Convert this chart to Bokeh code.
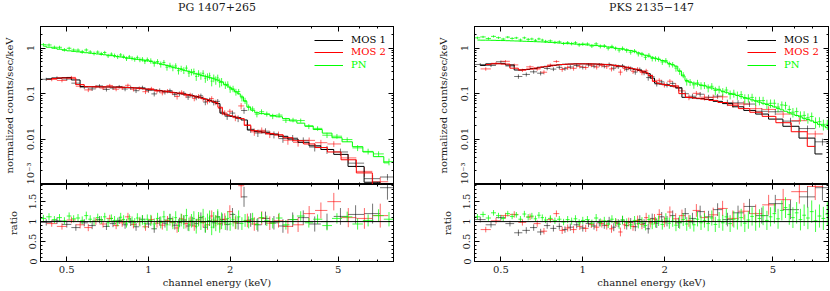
import numpy as np
from bokeh.plotting import figure
from bokeh.layouts import row, column
from bokeh.models import LogAxis, LinearAxis, FixedTicker, Range1d, Span, Legend, LegendItem
from bokeh.core.properties import value
from bokeh.embed import file_html
from bokeh.resources import INLINE

X_LO, X_HI = 0.4, 8.0
Y_LO, Y_HI = 0.001, 3.0
R_LO, R_HI = 0.0, 1.93
X_MAJOR = [0.5, 1, 2, 5]
X_LABELS = ["0.5", "1", "2", "5"]
X_MINOR = [0.4, 0.6, 0.7, 0.8, 0.9, 3, 4, 6, 7, 8]
Y_MAJOR = [0.001, 0.01, 0.1, 1]
Y_LABELS = ["10\u207b\u00b3", "0.01", "0.1", "1"]
Y_MINOR = [0.002, 0.003, 0.004, 0.005, 0.006, 0.007, 0.008, 0.009,
           0.02, 0.03, 0.04, 0.05, 0.06, 0.07, 0.08, 0.09,
           0.2, 0.3, 0.4, 0.5, 0.6, 0.7, 0.8, 0.9, 2, 3]
R_MAJOR = [0, 0.5, 1, 1.5]
R_LABELS = ["0", "0.5", "1", "1.5"]
R_MINOR = [0.1, 0.2, 0.3, 0.4, 0.6, 0.7, 0.8, 0.9, 1.1, 1.2, 1.3, 1.4, 1.6, 1.7, 1.8, 1.9]
RATIO_REF = 1.0

TITLES = ["PG 1407+265", "PKS 2135\u2212147"]
NAMES = ["MOS 1", "MOS 2", "PN"]
Y_TITLE = "normalized counts/sec/keV"
R_TITLE = "ratio"
X_TITLE = "channel energy (keV)"

MOS1_E = [0.42, 0.46, 0.50, 0.54, 0.58, 0.62, 0.66, 0.70, 0.74, 0.78,
          0.82, 0.86, 0.90, 0.95, 1.00, 1.05, 1.10, 1.15, 1.20, 1.25,
          1.30, 1.35, 1.40, 1.45, 1.50, 1.56, 1.62, 1.68, 1.74, 1.80,
          1.87, 1.95, 2.04, 2.14, 2.25, 2.38, 2.53, 2.70, 2.90, 3.13,
          3.40, 3.72, 4.10, 4.55, 5.10, 5.80, 6.70, 7.60]
MOS2_E = [0.44, 0.48, 0.52, 0.56, 0.60, 0.64, 0.68, 0.72, 0.76, 0.80,
          0.84, 0.88, 0.925, 0.975, 1.025, 1.075, 1.125, 1.175, 1.225, 1.275,
          1.325, 1.375, 1.425, 1.475, 1.53, 1.59, 1.65, 1.71, 1.77, 1.835,
          1.91, 1.995, 2.09, 2.195, 2.315, 2.455, 2.615, 2.80, 3.015, 3.265,
          3.56, 3.91, 4.32, 4.82, 5.45, 6.25, 7.15]
PN_E_L = [0.41, 0.43, 0.45, 0.47, 0.49, 0.51, 0.53, 0.55, 0.57, 0.59,
          0.61, 0.63, 0.65, 0.67, 0.69, 0.71, 0.73, 0.75, 0.77, 0.79,
          0.81, 0.83, 0.85, 0.87, 0.89, 0.91, 0.93, 0.95, 0.97, 0.99,
          1.02, 1.05, 1.08, 1.11, 1.14, 1.17, 1.20, 1.23, 1.26, 1.29,
          1.32, 1.35, 1.38, 1.41, 1.44, 1.47, 1.50, 1.53, 1.56, 1.59,
          1.62, 1.65, 1.68, 1.71, 1.74, 1.77, 1.80, 1.83, 1.86,
          1.92, 1.96, 2.00, 2.05, 2.10, 2.15, 2.21, 2.27, 2.34, 2.42,
          2.51, 2.61, 2.73, 2.87, 3.03, 3.21, 3.41, 3.64, 3.90, 4.20,
          4.55, 4.95, 5.40, 5.90, 6.45, 7.05, 7.70]
PN_E_R = [0.41, 0.43, 0.45, 0.47, 0.49, 0.51, 0.53, 0.55, 0.57, 0.59,
          0.61, 0.63, 0.65, 0.67, 0.69, 0.71, 0.73,
          0.76, 0.79, 0.82, 0.85, 0.88, 0.91, 0.94, 0.97, 1.00,
          1.04, 1.08, 1.12, 1.16, 1.20, 1.24, 1.28, 1.32, 1.36, 1.40,
          1.45, 1.50, 1.55, 1.60, 1.65, 1.70, 1.75, 1.80, 1.85, 1.90,
          1.96, 2.02, 2.08, 2.14, 2.20,
          2.27, 2.34, 2.41, 2.48, 2.56, 2.64, 2.72, 2.80,
          2.89, 2.98, 3.07, 3.17, 3.27, 3.37, 3.48, 3.59, 3.70,
          3.82, 3.94, 4.06, 4.19, 4.32,
          4.46, 4.60, 4.75, 4.90, 5.06, 5.22, 5.39, 5.56, 5.74, 5.92,
          6.11, 6.31, 6.51, 6.72, 6.94, 7.17, 7.41, 7.66, 7.92]

L_M1_MODEL = [0.211, 0.218, 0.225, 0.200, 0.143, 0.141, 0.141, 0.1406, 0.1396, 0.1387,
              0.1374, 0.1355, 0.1334, 0.1288, 0.1245, 0.1202, 0.1161, 0.1122, 0.1084, 0.1047,
              0.1012, 0.0977, 0.0944, 0.0902, 0.0861, 0.0813, 0.0759, 0.0708, 0.0661, 0.0603,
              0.0372, 0.0339, 0.0316, 0.0295, 0.0263, 0.0158, 0.0148, 0.0138, 0.0129, 0.0115,
              0.0100, 0.0085, 0.0071, 0.0059, 0.0046, 0.0025, 0.00112, 0.00079]
L_M1_RATIO = [0.98, 1.02, 0.93, 0.85, 0.97, 0.90, 1.05, 0.88, 0.95, 1.03,
              0.92, 0.99, 0.87, 1.06, 0.94, 0.82, 1.01, 0.96, 1.08, 0.91,
              0.98, 1.04, 0.89, 1.00, 0.95, 1.10, 0.86, 1.02, 0.97, 1.12,
              1.05, 0.93, 1.18, 0.96, 1.62, 1.04, 0.92, 1.08, 0.97, 0.89,
              1.05, 1.10, 0.94, 1.00, 1.13, 1.18, 1.20, 1.85]
L_M1_ERR = [0.08, 0.08, 0.08, 0.08, 0.09, 0.09, 0.09, 0.09, 0.09, 0.09,
            0.10, 0.10, 0.10, 0.10, 0.10, 0.10, 0.11, 0.11, 0.11, 0.11,
            0.12, 0.12, 0.12, 0.12, 0.12, 0.13, 0.13, 0.13, 0.14, 0.14,
            0.15, 0.15, 0.16, 0.16, 0.25, 0.17, 0.17, 0.17, 0.17, 0.17,
            0.18, 0.18, 0.19, 0.20, 0.21, 0.23, 0.25, 0.30]
L_M2_MODEL = [0.215, 0.221, 0.219, 0.158, 0.142, 0.141, 0.141, 0.140, 0.139, 0.138,
              0.136, 0.1345, 0.131, 0.1268, 0.1225, 0.118, 0.1143, 0.1104, 0.1067, 0.103,
              0.0995, 0.0962, 0.0923, 0.0881, 0.0837, 0.0785, 0.0733, 0.0684, 0.0631, 0.0501,
              0.0355, 0.0327, 0.0305, 0.0282, 0.020, 0.0153, 0.0143, 0.0133, 0.0123, 0.0107,
              0.0092, 0.0078, 0.0065, 0.0052, 0.0035, 0.0018, 0.0010]
L_M2_RATIO = [0.95, 0.88, 1.04, 0.92, 0.85, 1.01, 0.94, 1.08, 0.90, 0.97,
              1.12, 0.93, 1.00, 0.87, 1.05, 0.96, 0.91, 1.03, 0.98, 0.84,
              1.07, 0.95, 1.01, 0.89, 1.04, 0.98, 0.92, 1.14, 1.02, 0.95,
              1.06, 1.25, 0.97, 1.90, 1.03, 0.94, 1.09, 0.96, 1.02, 0.88,
              0.92, 1.20, 1.28, 1.50, 1.10, 1.08, 1.15]
L_M2_ERR = [0.08, 0.08, 0.08, 0.09, 0.09, 0.09, 0.09, 0.09, 0.09, 0.10,
            0.10, 0.10, 0.10, 0.10, 0.10, 0.11, 0.11, 0.11, 0.11, 0.12,
            0.12, 0.12, 0.12, 0.12, 0.13, 0.13, 0.13, 0.14, 0.14, 0.15,
            0.15, 0.16, 0.16, 0.30, 0.17, 0.17, 0.17, 0.17, 0.17, 0.18,
            0.18, 0.19, 0.20, 0.22, 0.24, 0.26, 0.30]
L_PN_MODEL = [1.108, 1.05, 1.00, 0.95, 0.906, 0.874, 0.852, 0.831, 0.812, 0.794,
              0.777, 0.760, 0.745, 0.730, 0.716, 0.701, 0.685, 0.669, 0.654, 0.640,
              0.627, 0.614, 0.602, 0.590, 0.579, 0.568, 0.558, 0.548, 0.538, 0.529,
              0.511, 0.490, 0.470, 0.451, 0.433, 0.415, 0.398, 0.383, 0.369, 0.355,
              0.342, 0.329, 0.317, 0.305, 0.294, 0.283, 0.272, 0.264, 0.256, 0.248,
              0.240, 0.233, 0.226, 0.219, 0.212, 0.206, 0.200, 0.189, 0.179,
              0.160, 0.148, 0.135, 0.122, 0.110, 0.099, 0.085, 0.068, 0.051, 0.043,
              0.038, 0.0363, 0.0351, 0.0331, 0.0309, 0.0282, 0.0251, 0.0224, 0.0195, 0.0162,
              0.0135, 0.0107, 0.0087, 0.0068, 0.0052, 0.0041, 0.0030]
L_PN_RATIO = [1.08, 1.12, 1.05, 1.10, 1.02, 1.14, 1.07, 1.09, 1.03, 1.15,
              1.06, 1.01, 1.10, 1.04, 1.12, 0.97, 1.08, 1.03, 0.99, 1.11,
              1.05, 0.96, 1.07, 1.02, 0.98, 1.09, 1.00, 1.04, 0.95, 1.06,
              1.03, 0.94, 1.08, 0.98, 1.12, 0.92, 1.05, 0.97, 1.10, 0.90,
              1.04, 0.99, 1.15, 0.93, 1.02, 1.08, 0.88, 1.06, 0.97, 1.13,
              0.91, 1.01, 1.09, 0.86, 1.04, 0.96, 1.11, 0.93, 1.02,
              0.97, 1.08, 0.94, 1.05, 0.99, 1.12, 0.95, 1.03, 0.98, 1.07,
              0.93, 1.10, 1.02, 0.96, 1.09, 0.92, 1.05, 1.14, 0.97, 1.06,
              0.90, 1.08, 1.12, 0.94, 1.03, 1.15, 1.06]
L_PN_ERR = [0.09, 0.09, 0.09, 0.09, 0.09, 0.09, 0.09, 0.10, 0.10, 0.10,
            0.10, 0.10, 0.10, 0.10, 0.10, 0.10, 0.10, 0.11, 0.11, 0.11,
            0.11, 0.11, 0.11, 0.11, 0.11, 0.12, 0.12, 0.12, 0.12, 0.12,
            0.14, 0.14, 0.14, 0.15, 0.15, 0.15, 0.15, 0.16, 0.16, 0.16,
            0.16, 0.17, 0.17, 0.17, 0.17, 0.18, 0.18, 0.18, 0.18, 0.19,
            0.19, 0.19, 0.19, 0.20, 0.20, 0.20, 0.20, 0.21, 0.21,
            0.18, 0.18, 0.17, 0.17, 0.17, 0.16, 0.16, 0.16, 0.15, 0.15,
            0.14, 0.14, 0.13, 0.13, 0.13, 0.12, 0.12, 0.12, 0.12, 0.12,
            0.12, 0.13, 0.13, 0.14, 0.15, 0.16, 0.18]

R_M1_MODEL = [0.417, 0.452, 0.457, 0.427, 0.331, 0.339, 0.355, 0.380, 0.398, 0.417,
              0.431, 0.442, 0.447, 0.452, 0.452, 0.452, 0.449, 0.445, 0.439, 0.431,
              0.422, 0.407, 0.394, 0.380, 0.363, 0.343, 0.324, 0.302, 0.275, 0.219,
              0.170, 0.162, 0.155, 0.146, 0.135, 0.083, 0.081, 0.0776, 0.0741, 0.0676,
              0.0603, 0.0513, 0.0427, 0.0355, 0.0275, 0.0191, 0.0105, 0.0047]
R_M1_RATIO = [1.05, 0.92, 1.10, 0.95, 0.72, 0.78, 0.85, 0.74, 0.90, 0.83,
              0.88, 0.80, 0.86, 0.92, 0.84, 0.95, 0.89, 0.97, 0.91, 1.02,
              0.86, 0.96, 1.04, 0.90, 0.98, 0.87, 1.05, 0.95, 0.82, 1.08,
              0.96, 1.12, 1.01, 1.15, 0.97, 1.20, 1.08, 1.25, 1.12, 1.30,
              1.05, 1.22, 1.38, 1.15, 1.45, 1.30, 1.62, 1.85]
R_M1_ERR = [0.07, 0.07, 0.07, 0.07, 0.08, 0.08, 0.08, 0.08, 0.08, 0.08,
            0.08, 0.08, 0.09, 0.09, 0.09, 0.09, 0.09, 0.09, 0.09, 0.10,
            0.10, 0.10, 0.10, 0.10, 0.11, 0.11, 0.11, 0.11, 0.12, 0.12,
            0.12, 0.12, 0.13, 0.13, 0.13, 0.14, 0.14, 0.15, 0.15, 0.16,
            0.17, 0.18, 0.19, 0.20, 0.22, 0.24, 0.27, 0.32]
R_M2_MODEL = [0.437, 0.455, 0.447, 0.363, 0.333, 0.347, 0.367, 0.389, 0.407, 0.425,
              0.437, 0.445, 0.450, 0.452, 0.452, 0.451, 0.447, 0.442, 0.436, 0.427,
              0.415, 0.401, 0.387, 0.372, 0.353, 0.333, 0.313, 0.288, 0.251, 0.186,
              0.166, 0.158, 0.151, 0.141, 0.100, 0.0822, 0.0794, 0.0759, 0.0708, 0.0638,
              0.0556, 0.0468, 0.0389, 0.0316, 0.0229, 0.0145, 0.0069]
R_M2_RATIO = [0.80, 1.02, 1.15, 1.18, 0.98, 1.12, 0.95, 0.76, 1.05, 1.20,
              0.78, 0.84, 0.80, 0.88, 0.83, 0.93, 0.86, 0.95, 0.90, 0.82,
              0.97, 0.74, 0.92, 0.99, 0.88, 1.03, 0.93, 1.10, 0.97, 1.06,
              1.18, 0.99, 1.24, 1.07, 1.15, 1.02, 1.28, 1.10, 1.17, 1.33,
              1.08, 1.26, 1.20, 1.42, 1.55, 1.75, 1.88]
R_M2_ERR = [0.07, 0.07, 0.07, 0.08, 0.08, 0.08, 0.08, 0.08, 0.08, 0.08,
            0.09, 0.09, 0.09, 0.09, 0.09, 0.09, 0.10, 0.10, 0.10, 0.10,
            0.10, 0.11, 0.11, 0.11, 0.11, 0.12, 0.12, 0.12, 0.12, 0.13,
            0.13, 0.13, 0.14, 0.14, 0.15, 0.15, 0.16, 0.17, 0.18, 0.19,
            0.20, 0.21, 0.23, 0.25, 0.27, 0.30, 0.34]
R_PN_MODEL = [1.51, 1.50, 1.50, 1.49, 1.48, 1.47, 1.46, 1.45, 1.44, 1.43,
              1.42, 1.41, 1.40, 1.39, 1.38, 1.37, 1.36,
              1.34, 1.32, 1.30, 1.28, 1.26, 1.25, 1.23, 1.22, 1.20,
              1.18, 1.16, 1.14, 1.12, 1.10, 1.06, 1.03, 1.00, 0.975, 0.95,
              0.92, 0.89, 0.84, 0.79, 0.745, 0.70, 0.665, 0.63, 0.60, 0.566,
              0.535, 0.50, 0.462, 0.43, 0.40,
              0.316, 0.245, 0.195, 0.18, 0.17, 0.162, 0.155, 0.148,
              0.14, 0.133, 0.126, 0.12, 0.113, 0.107, 0.101, 0.096, 0.091,
              0.086, 0.0817, 0.077, 0.073, 0.069,
              0.065, 0.0612, 0.0577, 0.0546, 0.0511, 0.0473, 0.044, 0.0409, 0.038, 0.0355,
              0.033, 0.0308, 0.0286, 0.0269, 0.0251, 0.023, 0.0211, 0.0195, 0.0178]
R_PN_RATIO = [1.12, 1.18, 1.09, 1.22, 1.15, 1.08, 1.20, 1.13, 1.17, 1.06,
              1.19, 1.11, 1.14, 1.07, 1.16, 1.10, 1.04,
              1.08, 1.02, 1.06, 0.99, 1.05, 1.01, 1.07, 0.97, 1.03,
              1.05, 0.96, 1.09, 0.98, 1.02, 0.94, 1.06, 0.99, 0.93, 1.04,
              0.97, 0.92, 1.03, 0.95, 0.99, 0.90, 1.05, 0.94, 0.98, 1.02,
              0.93, 1.07, 0.96, 1.01, 0.91,
              0.98, 1.05, 0.94, 0.99, 0.92, 1.06, 0.97, 1.03,
              0.95, 1.09, 0.93, 1.04, 0.97, 1.12, 0.95, 1.06, 1.01,
              1.10, 0.96, 1.04, 1.13, 1.00,
              1.08, 1.15, 1.03, 1.12, 1.20, 1.07, 1.28, 1.35, 1.18, 1.10,
              1.22, 1.05, 1.16, 1.09, 1.25, 1.02, 1.14, 1.08, 1.19]
R_PN_ERR = [0.07, 0.07, 0.07, 0.07, 0.07, 0.07, 0.07, 0.07, 0.07, 0.08,
            0.08, 0.08, 0.08, 0.08, 0.08, 0.08, 0.08,
            0.08, 0.08, 0.08, 0.08, 0.09, 0.09, 0.09, 0.09, 0.09,
            0.09, 0.09, 0.10, 0.10, 0.10, 0.10, 0.10, 0.10, 0.11, 0.11,
            0.11, 0.11, 0.11, 0.12, 0.12, 0.12, 0.12, 0.13, 0.13, 0.13,
            0.13, 0.14, 0.14, 0.14, 0.15,
            0.16, 0.16, 0.17, 0.17, 0.17, 0.18, 0.18, 0.18,
            0.19, 0.19, 0.19, 0.20, 0.20, 0.20, 0.21, 0.21, 0.21,
            0.22, 0.22, 0.22, 0.23, 0.23,
            0.23, 0.24, 0.24, 0.24, 0.25, 0.25, 0.25, 0.26, 0.26, 0.26,
            0.27, 0.27, 0.27, 0.28, 0.28, 0.28, 0.29, 0.29, 0.30]

PANELS = [
    (TITLES[0], [(NAMES[0], MOS1_E, L_M1_MODEL, L_M1_RATIO, L_M1_ERR),
                 (NAMES[1], MOS2_E, L_M2_MODEL, L_M2_RATIO, L_M2_ERR),
                 (NAMES[2], PN_E_L, L_PN_MODEL, L_PN_RATIO, L_PN_ERR)]),
    (TITLES[1], [(NAMES[0], MOS1_E, R_M1_MODEL, R_M1_RATIO, R_M1_ERR),
                 (NAMES[1], MOS2_E, R_M2_MODEL, R_M2_RATIO, R_M2_ERR),
                 (NAMES[2], PN_E_R, R_PN_MODEL, R_PN_RATIO, R_PN_ERR)]),
]

FONT = "DejaVu Serif"
FS = "11px"
FS_AX = "10px"
FS_TICK = "10px"
FS_LEG = "10px"
TXT = "#1a1a1a"
COLORS = {"MOS 1": "#000000", "MOS 2": "#ff0000", "PN": "#00ff00"}
DATA_ALPHA = {"MOS 1": 0.55, "MOS 2": 0.6, "PN": 0.75}
H_TOP = 184
H_BOT = 106


def bin_edges(e):
    e = np.asarray(e, float)
    mid = np.sqrt(e[1:] * e[:-1])
    lo = np.concatenate([[e[0] ** 2 / mid[0]], mid])
    hi = np.concatenate([mid, [e[-1] ** 2 / mid[-1]]])
    return lo, hi


def base_axis(ax):
    ax.axis_line_color = "black"
    ax.major_tick_line_color = "black"
    ax.minor_tick_line_color = "black"
    ax.major_tick_in = 5
    ax.major_tick_out = 0
    ax.minor_tick_in = 2
    ax.minor_tick_out = 0
    ax.major_label_text_font = FONT
    ax.major_label_text_color = TXT
    ax.major_label_text_font_size = FS_TICK
    ax.axis_label_text_font = FONT
    ax.axis_label_text_font_size = FS_AX
    ax.axis_label_text_font_style = "normal"
    ax.axis_label_text_color = TXT


def shown_axis(ax, ticks, labels, orient, standoff):
    base_axis(ax)
    ax.major_label_overrides = dict(zip(ticks, labels))
    ax.major_label_orientation = orient
    ax.major_label_standoff = standoff


def bare_axis(ax, ticks, orient):
    base_axis(ax)
    ax.major_label_overrides = {t: "" for t in ticks}
    ax.major_label_orientation = orient
    ax.major_label_standoff = 0


def build_panel(title, series, width, b_left, b_right, leg_x):
    xr = Range1d(X_LO, X_HI)
    top = figure(width=width, height=H_TOP, x_axis_type="log", y_axis_type="log",
                 x_range=xr, y_range=Range1d(Y_LO, Y_HI), title=title,
                 output_backend="svg", toolbar_location=None,
                 min_border_left=b_left, min_border_right=b_right,
                 min_border_top=26, min_border_bottom=0)
    bot = figure(width=width, height=H_BOT, x_axis_type="log",
                 x_range=xr, y_range=Range1d(R_LO, R_HI),
                 output_backend="svg", toolbar_location=None,
                 min_border_left=b_left, min_border_right=b_right,
                 min_border_top=0, min_border_bottom=2)
    for p in (top, bot):
        p.grid.visible = False
        p.outline_line_color = "black"
        p.background_fill_color = "white"
        p.border_fill_color = "white"
        p.xaxis.ticker = FixedTicker(ticks=X_MAJOR, minor_ticks=X_MINOR)
    top.title.text_font = FONT
    top.title.text_font_size = FS
    top.title.text_font_style = "normal"
    top.title.text_color = TXT
    top.title.align = "center"
    top.title.vertical_align = "top"
    top.title.standoff = 0

    bare_axis(top.xaxis[0], X_MAJOR, "vertical")
    top.yaxis.ticker = FixedTicker(ticks=Y_MAJOR, minor_ticks=Y_MINOR)
    shown_axis(top.yaxis[0], Y_MAJOR, Y_LABELS, "vertical", 4)
    top.yaxis.axis_label = Y_TITLE
    top.yaxis.axis_label_standoff = 8
    a_top = LogAxis(ticker=FixedTicker(ticks=X_MAJOR, minor_ticks=X_MINOR))
    bare_axis(a_top, X_MAJOR, "vertical")
    # a blank axis caption that lifts the title up, as in the original
    a_top.axis_label = " "
    a_top.axis_label_text_font_size = "7px"
    a_top.axis_label_standoff = 0
    top.add_layout(a_top, "above")
    a_right = LogAxis(ticker=FixedTicker(ticks=Y_MAJOR, minor_ticks=Y_MINOR))
    bare_axis(a_right, Y_MAJOR, "horizontal")
    top.add_layout(a_right, "right")

    shown_axis(bot.xaxis[0], X_MAJOR, X_LABELS, "horizontal", 4)
    bot.xaxis.axis_label = X_TITLE
    bot.xaxis.axis_label_standoff = 1
    bot.yaxis.ticker = FixedTicker(ticks=R_MAJOR, minor_ticks=R_MINOR)
    shown_axis(bot.yaxis[0], R_MAJOR, R_LABELS, "vertical", 4)
    bot.yaxis.axis_label = R_TITLE
    bot.yaxis.axis_label_standoff = 8
    b_top = LogAxis(ticker=FixedTicker(ticks=X_MAJOR, minor_ticks=X_MINOR))
    bare_axis(b_top, X_MAJOR, "vertical")
    bot.add_layout(b_top, "above")
    b_right = LinearAxis(ticker=FixedTicker(ticks=R_MAJOR, minor_ticks=R_MINOR))
    bare_axis(b_right, R_MAJOR, "horizontal")
    bot.add_layout(b_right, "right")

    bot.add_layout(Span(location=RATIO_REF, dimension="width",
                        line_color="black", line_width=1))

    for name, e, model, ratio, err in series:
        c = COLORS[name]
        a = DATA_ALPHA[name]
        e = np.asarray(e, float)
        m = np.asarray(model, float)
        r = np.asarray(ratio, float)
        s = np.asarray(err, float)
        lo, hi = bin_edges(e)
        d = m * r
        top.segment(x0=lo, y0=d, x1=hi, y1=d, line_color=c, line_alpha=a, line_width=1)
        top.segment(x0=e, y0=d - m * s, x1=e, y1=d + m * s, line_color=c, line_alpha=a, line_width=1)
        bot.segment(x0=lo, y0=r, x1=hi, y1=r, line_color=c, line_alpha=a, line_width=1)
        bot.segment(x0=e, y0=r - s, x1=e, y1=r + s, line_color=c, line_alpha=a, line_width=1)

    rows_y = [137, 125, 112]
    for (name, e, model, ratio, err), ly in zip(series, rows_y):
        c = COLORS[name]
        rr = top.step(x=e, y=model, mode="center", line_color=c, line_width=1)
        leg = Legend(items=[LegendItem(label=value(name), renderers=[rr])], location=(leg_x, ly),
                     border_line_alpha=0, background_fill_alpha=0,
                     label_text_font=FONT, label_text_font_size=FS_LEG, label_text_color=c,
                     glyph_width=29, glyph_height=10, label_height=10,
                     padding=2, spacing=0, margin=0, label_standoff=8)
        top.add_layout(leg)
    return column(top, bot)


left = build_panel(PANELS[0][0], PANELS[0][1], 415, 37, 22, 272)
right = build_panel(PANELS[1][0], PANELS[1][1], 414, 59, 1, 271)
layout = row(left, right)

open("out.html", "w").write(file_html(layout, INLINE))
